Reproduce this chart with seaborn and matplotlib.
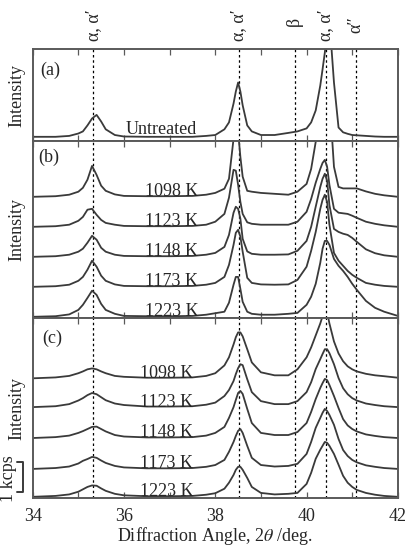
import pandas as pd
import matplotlib.pyplot as plt
import matplotlib.transforms as mtransforms
import seaborn as sns

sns.set_style("ticks")
plt.rcParams['font.family'] = ['Liberation Serif', 'DejaVu Serif']
plt.rcParams['mathtext.fontset'] = 'stix'

# data, intensities in kcps above each pattern's own baseline

two_theta = [34.0, 34.5, 34.8, 35.0, 35.1, 35.2, 35.3, 35.4, 35.5, 35.6,
             35.8, 36.0, 36.5, 37.0, 37.5, 37.8, 38.0, 38.2, 38.3, 38.4,
             38.45, 38.5, 38.55, 38.6, 38.7, 38.8, 39.0, 39.3, 39.6, 39.8,
             40.0, 40.1, 40.2, 40.3, 40.35, 40.4, 40.45, 40.5, 40.6, 40.7,
             40.8, 40.9, 41.0, 41.1, 41.3, 41.5, 41.7, 42.0]

untreated = [0.02, 0.02, 0.05, 0.13, 0.2, 0.4, 0.63, 0.75, 0.53, 0.27,
             0.08, 0.03, 0.02, 0.02, 0.02, 0.05, 0.08, 0.27, 0.5, 1.13,
             1.53, 1.83, 1.53, 1.07, 0.4, 0.2, 0.08, 0.08, 0.15, 0.2,
             0.3, 0.5, 0.9, 1.73, 2.27, 2.83, 3.5, 3.93, 1.83, 0.33,
             0.17, 0.12, 0.08, 0.07, 0.05, 0.03, 0.02, 0.02]

temps = ["1098 K", "1123 K", "1148 K", "1173 K", "1223 K"]

# panel (b)
b_1098 = [0, 0.02, 0.07, 0.17, 0.3, 0.57, 1.03, 0.73, 0.37, 0.2,
          0.08, 0.03, 0.02, 0.02, 0.03, 0.07, 0.13, 0.27, 0.6, 1.93,
          2.6, 2.17, 1.33, 0.67, 0.2, 0.17, 0.13, 0.1, 0.07, 0.17,
          0.43, 0.93, 1.83, 2.83, 3.5, 4.0, 4.0, 3.33, 1.0, 0.33,
          0.28, 0.28, 0.28, 0.28, 0.18, 0.1, 0.05, 0]
b_1123 = [0, 0.02, 0.07, 0.2, 0.33, 0.57, 0.6, 0.4, 0.23, 0.13,
          0.07, 0.03, 0.02, 0.02, 0.03, 0.07, 0.17, 0.43, 0.97, 1.9,
          1.87, 1.4, 0.83, 0.43, 0.15, 0.1, 0.07, 0.07, 0.07, 0.17,
          0.5, 0.93, 1.47, 1.93, 2.13, 2.23, 2.0, 1.4, 0.6, 0.47,
          0.45, 0.43, 0.37, 0.3, 0.17, 0.1, 0.05, 0]
b_1148 = [0, 0.02, 0.07, 0.17, 0.27, 0.47, 0.7, 0.57, 0.3, 0.17,
          0.07, 0.03, 0.02, 0.02, 0.03, 0.07, 0.13, 0.33, 0.73, 1.47,
          1.67, 1.6, 1.27, 0.6, 0.18, 0.1, 0.07, 0.07, 0.08, 0.2,
          0.53, 1.0, 1.67, 2.33, 2.6, 2.77, 2.53, 1.73, 0.93, 0.83,
          0.77, 0.73, 0.63, 0.5, 0.25, 0.12, 0.05, 0]
b_1173 = [0, 0.02, 0.07, 0.2, 0.33, 0.57, 0.87, 0.67, 0.37, 0.2,
          0.08, 0.03, 0.02, 0.02, 0.03, 0.07, 0.13, 0.33, 0.73, 1.4,
          1.8, 1.9, 1.67, 1.17, 0.3, 0.13, 0.08, 0.07, 0.08, 0.23,
          0.67, 1.2, 1.83, 2.6, 2.9, 3.07, 2.83, 2.07, 1.13, 0.87,
          0.7, 0.53, 0.4, 0.3, 0.13, 0.07, 0.03, 0]
b_1223 = [0, 0.02, 0.08, 0.23, 0.4, 0.63, 0.87, 0.73, 0.43, 0.23,
          0.1, 0.03, 0.02, 0.02, 0.03, 0.07, 0.12, 0.17, 0.47, 1.07,
          1.33, 1.33, 0.93, 0.5, 0.17, 0.1, 0.07, 0.07, 0.1, 0.13,
          0.4, 0.67, 1.1, 1.8, 2.27, 2.53, 2.53, 2.4, 1.93, 1.7,
          1.53, 1.33, 1.1, 0.9, 0.53, 0.3, 0.17, 0.03]

# panel (c)
c_1098 = [0, 0.03, 0.08, 0.17, 0.23, 0.3, 0.33, 0.3, 0.23, 0.17,
          0.08, 0.05, 0.02, 0.02, 0.03, 0.08, 0.17, 0.43, 0.7, 1.13,
          1.37, 1.53, 1.53, 1.4, 0.97, 0.53, 0.2, 0.1, 0.1, 0.3,
          0.7, 1.03, 1.43, 1.83, 2.07, 2.27, 2.2, 1.83, 1.23, 0.83,
          0.57, 0.4, 0.3, 0.23, 0.15, 0.1, 0.07, 0.02]
c_1123 = [0, 0.03, 0.1, 0.22, 0.3, 0.4, 0.47, 0.43, 0.33, 0.23,
          0.12, 0.07, 0.02, 0.02, 0.03, 0.08, 0.15, 0.37, 0.57, 0.87,
          1.1, 1.3, 1.43, 1.4, 0.93, 0.5, 0.2, 0.1, 0.1, 0.2,
          0.5, 0.83, 1.27, 1.6, 1.77, 1.93, 1.93, 1.8, 1.43, 0.97,
          0.63, 0.43, 0.3, 0.22, 0.12, 0.07, 0.03, 0]
c_1148 = [0, 0.03, 0.08, 0.17, 0.23, 0.3, 0.37, 0.38, 0.3, 0.22,
          0.1, 0.05, 0.02, 0.02, 0.03, 0.08, 0.17, 0.37, 0.67, 1.03,
          1.27, 1.5, 1.57, 1.47, 0.97, 0.5, 0.17, 0.1, 0.1, 0.2,
          0.5, 0.87, 1.3, 1.67, 1.83, 1.97, 1.93, 1.77, 1.4, 1.0,
          0.63, 0.42, 0.3, 0.22, 0.12, 0.07, 0.03, 0]
c_1173 = [0, 0.03, 0.08, 0.18, 0.27, 0.33, 0.4, 0.37, 0.28, 0.2,
          0.1, 0.05, 0.02, 0.02, 0.03, 0.07, 0.13, 0.3, 0.57, 0.9,
          1.1, 1.27, 1.33, 1.2, 0.77, 0.37, 0.13, 0.08, 0.1, 0.17,
          0.5, 0.9, 1.37, 1.7, 1.87, 2.0, 1.93, 1.8, 1.47, 1.0,
          0.63, 0.43, 0.3, 0.22, 0.12, 0.07, 0.03, 0]
c_1223 = [0, 0.03, 0.08, 0.17, 0.25, 0.33, 0.38, 0.37, 0.28, 0.2,
          0.1, 0.05, 0.02, 0.02, 0.03, 0.07, 0.12, 0.27, 0.47, 0.73,
          0.9, 1.0, 1.0, 0.9, 0.63, 0.33, 0.13, 0.08, 0.1, 0.13,
          0.43, 0.8, 1.27, 1.57, 1.7, 1.83, 1.8, 1.7, 1.43, 1.07,
          0.7, 0.47, 0.33, 0.23, 0.13, 0.07, 0.03, 0]

# stacking offsets (kcps)
offset_a = 0.12
offsets_b = [4.04, 3.04, 2.04, 1.04, 0.04]
offsets_c = [3.99, 3.03, 2.0, 0.97, 0.04]

peak_lines = [35.33, 38.51, 39.74, 40.42, 41.09]
peak_names = ["α, α′", "α, α′", "β", "α, α′", "α″"]

curves_b = [b_1098, b_1123, b_1148, b_1173, b_1223]
curves_c = [c_1098, c_1123, c_1148, c_1173, c_1223]

line_col = '#3a3a3a'
frame_col = '#5a5a5a'
fs = 13

fig = plt.figure(figsize=(4.06, 5.5), dpi=100)
gs = fig.add_gridspec(3, 1, height_ratios=[92, 177, 180], hspace=0,
                      left=0.0805, right=0.980, top=0.9109, bottom=0.0945)
ax_a, ax_b, ax_c = [fig.add_subplot(gs[i]) for i in range(3)]

df_a = pd.DataFrame({"two_theta": two_theta, "I": [v + offset_a for v in untreated]})
sns.lineplot(data=df_a, x="two_theta", y="I", ax=ax_a, color=line_col, lw=1.3)

for curve, off in zip(curves_b, offsets_b):
    df = pd.DataFrame({"two_theta": two_theta, "I": [v + off for v in curve]})
    sns.lineplot(data=df, x="two_theta", y="I", ax=ax_b, color=line_col, lw=1.3)

for curve, off in zip(curves_c, offsets_c):
    df = pd.DataFrame({"two_theta": two_theta, "I": [v + off for v in curve]})
    sns.lineplot(data=df, x="two_theta", y="I", ax=ax_c, color=line_col, lw=1.3)

for ax, top in zip([ax_a, ax_b, ax_c], [92 / 30, 177 / 30, 180 / 30]):
    ax.set_xlim(34, 42)
    ax.set_ylim(0, top)
    ax.set_yticks([])
    ax.set_xticks(range(34, 43))
    ax.set_xticklabels([])
    ax.set_xlabel("")
    ax.set_ylabel("")
    ax.tick_params(axis='x', direction='in', top=True, bottom=True,
                   length=4.5, width=0.9, color=frame_col)
    for s in ax.spines.values():
        s.set_color(frame_col)
        s.set_linewidth(1.4)
    for xl in peak_lines:
        ax.axvline(xl, color='black', lw=0.9, ls=(0, (2.0, 2.2)), zorder=1)
    ax.text(-0.042, 0.5, "Intensity", transform=ax.transAxes, rotation=90,
            ha='center', va='center', fontsize=fs)

ax_c.set_xticklabels(["34", "", "36", "", "38", "", "40", "", "42"], fontsize=fs)
ax_c.tick_params(axis='x', pad=7)
ax_c.set_xlabel(r"Diffraction Angle, 2$\mathit{\theta}$ /deg.", fontsize=fs, labelpad=0)

# top peak labels
for xl, name, yy in zip(peak_lines, peak_names, [1.09, 1.09, 1.25, 1.09, 1.17]):
    ax_a.text(xl, yy, name, transform=ax_a.get_xaxis_transform(), rotation=90,
              ha='center', va='bottom', fontsize=fs)

# panel letters and texts
ax_a.text(0.02, 0.77, "(a)", transform=ax_a.transAxes, ha='left', va='center', fontsize=fs)
ax_b.text(0.015, 0.91, "(b)", transform=ax_b.transAxes, ha='left', va='center', fontsize=fs)
ax_c.text(0.025, 0.889, "(c)", transform=ax_c.transAxes, ha='left', va='center', fontsize=fs)
ax_a.text(36.82, 0.12, "Untreated", transform=ax_a.get_xaxis_transform(),
          ha='center', va='center', fontsize=fs)

for t, off in zip(temps, offsets_b):
    ax_b.text(36.46, off + 0.02, t, ha='left', va='baseline', fontsize=fs)
for t, off in zip(temps, offsets_c):
    ax_c.text(36.35, off + 0.02, t, ha='left', va='baseline', fontsize=fs)

# 1 kcps scale bar
trans = mtransforms.blended_transform_factory(ax_c.transAxes, ax_c.transData)
bar_y0 = 0.21
ax_c.plot([-0.044, -0.027, -0.027, -0.044], [bar_y0, bar_y0, bar_y0 + 1, bar_y0 + 1],
          transform=trans, color=line_col, lw=1.4, clip_on=False)
ax_c.text(-0.067, bar_y0 + 0.42, "1 kcps", transform=trans, rotation=90,
          ha='center', va='center', fontsize=fs)

fig.savefig("out.png", dpi=100)
plt.close()
